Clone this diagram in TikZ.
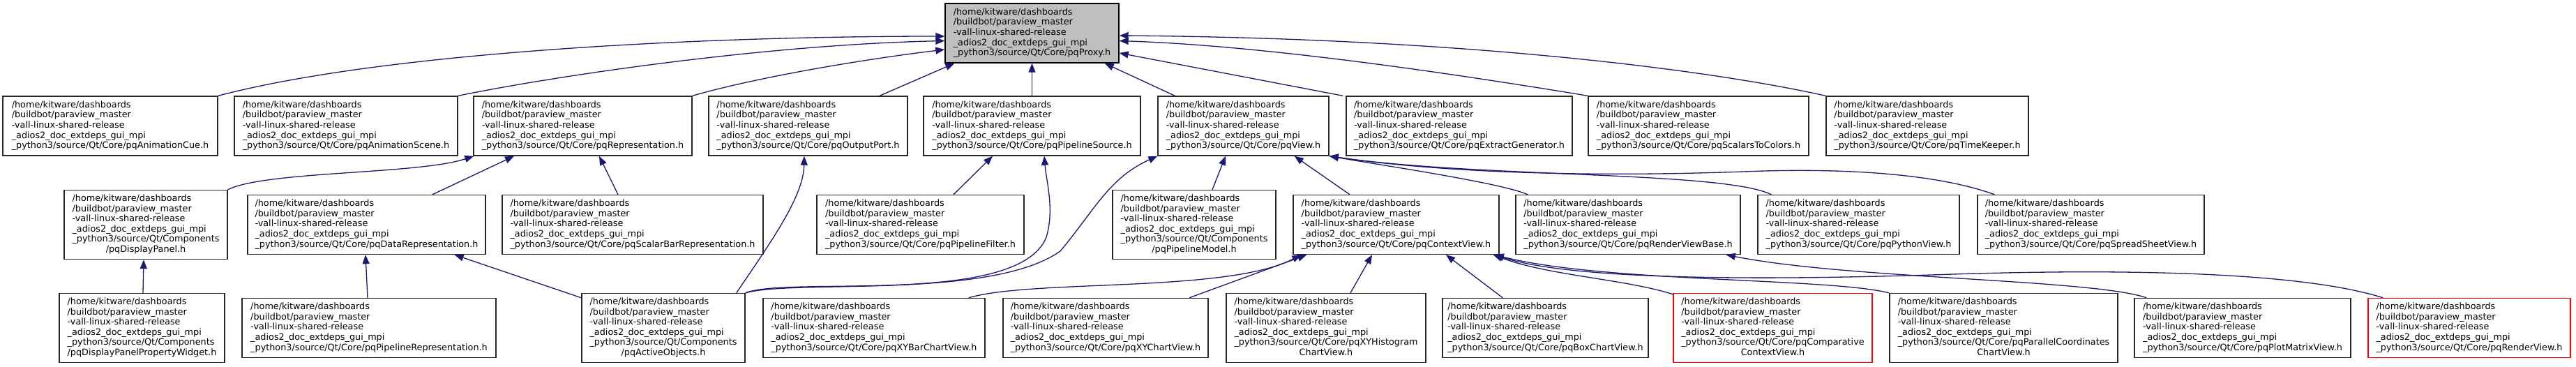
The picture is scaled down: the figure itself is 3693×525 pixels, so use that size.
\documentclass[tikz,border=0pt]{standalone}
\usepackage{fontspec}
\setmainfont{DejaVu Sans}
\usetikzlibrary{arrows.meta,calc}
\definecolor{midnightblue}{HTML}{191970}
\newcommand\hd{/home/kitware/dashboards\\/buildbot/paraview\_master\\-vall-linux-shared-release\\\_adios2\_doc\_extdeps\_gui\_mpi\\}
\newcommand\fiveL[1]{\begin{tabular}{@{}l@{}}\hd\_python3/source/Qt/Core/#1\end{tabular}}
\newcommand\sixL[2]{\begin{tabular}{@{}l@{}}\hd #1\\\multicolumn{1}{@{}c@{}}{#2}\end{tabular}}
\tikzset{
  box/.style={draw=black!85, fill=white, line width=1.4pt, inner sep=0pt,
    minimum height=85pt, font=\fontsize{12.8}{14.6}\selectfont},
  boxsix/.style={box, minimum height=99pt},
  rootbox/.style={box, fill=black!25, draw=black},
  trunc/.style={draw=red},
  edge/.style={draw=midnightblue, line width=1.3pt, -{Triangle[length=13pt,width=10pt]}}
}
\begin{document}
\begin{tikzpicture}[x=1pt,y=-1pt]
\useasboundingbox (0,0) rectangle (3693,525);
% root
\node[rootbox, minimum width=249pt] (root) at (1479.5,47.5) {\fiveL{pqProxy.h}};
% row 1
\node[box, minimum width=308pt] (cue) at (158,180.5) {\fiveL{pqAnimationCue.h}};
\node[box, minimum width=320pt] (scene) at (496,180.5) {\fiveL{pqAnimationScene.h}};
\node[box, minimum width=313pt] (repr) at (835.5,180.5) {\fiveL{pqRepresentation.h}};
\node[box, minimum width=285pt] (oport) at (1158.5,180.5) {\fiveL{pqOutputPort.h}};
\node[box, minimum width=311pt] (psrc) at (1479.5,180.5) {\fiveL{pqPipelineSource.h}};
\node[box, minimum width=245pt] (view) at (1782.5,180.5) {\fiveL{pqView.h}};
\node[box, minimum width=324pt] (extract) at (2092,180.5) {\fiveL{pqExtractGenerator.h}};
\node[box, minimum width=316pt] (s2c) at (2435,180.5) {\fiveL{pqScalarsToColors.h}};
\node[box, minimum width=290pt] (tk) at (2763,180.5) {\fiveL{pqTimeKeeper.h}};
% row 2
\node[boxsix, minimum width=234pt] (dpanel) at (209,322) {\sixL{\_python3/source/Qt/Components}{/pqDisplayPanel.h}};
\node[box, minimum width=341pt] (datarep) at (525.5,322) {\fiveL{pqDataRepresentation.h}};
\node[box, minimum width=374pt] (sbrep) at (907,322) {\fiveL{pqScalarBarRepresentation.h}};
\node[box, minimum width=297pt] (pfilter) at (1319.5,322) {\fiveL{pqPipelineFilter.h}};
\node[boxsix, minimum width=234pt] (pmodel) at (1712,322) {\sixL{\_python3/source/Qt/Components}{/pqPipelineModel.h}};
\node[box, minimum width=295pt] (ctxview) at (2001.5,322) {\fiveL{pqContextView.h}};
\node[box, minimum width=322pt] (rvbase) at (2334,322) {\fiveL{pqRenderViewBase.h}};
\node[box, minimum width=289pt] (pyview) at (2664.5,322) {\fiveL{pqPythonView.h}};
\node[box, minimum width=325pt] (ssview) at (2997.5,322) {\fiveL{pqSpreadSheetView.h}};
% row 3
\node[boxsix, minimum width=237pt] (dppw) at (203.5,470) {\sixL{\_python3/source/Qt/Components}{/pqDisplayPanelPropertyWidget.h}};
\node[box, minimum width=364pt] (piperep) at (529,470) {\fiveL{pqPipelineRepresentation.h}};
\node[boxsix, minimum width=234pt] (active) at (951,470) {\sixL{\_python3/source/Qt/Components}{/pqActiveObjects.h}};
\node[box, minimum width=318pt] (xybar) at (1253,470) {\fiveL{pqXYBarChartView.h}};
\node[box, minimum width=294pt] (xychart) at (1585,470) {\fiveL{pqXYChartView.h}};
\node[boxsix, minimum width=286pt] (xyhist) at (1901,470) {\sixL{\_python3/source/Qt/Core/pqXYHistogram}{ChartView.h}};
\node[box, minimum width=295pt] (boxchart) at (2215.5,470) {\fiveL{pqBoxChartView.h}};
\node[boxsix, trunc, minimum width=285pt] (compctx) at (2541.5,470) {\sixL{\_python3/source/Qt/Core/pqComparative}{ContextView.h}};
\node[boxsix, minimum width=327pt] (parcoord) at (2872.5,470) {\sixL{\_python3/source/Qt/Core/pqParallelCoordinates}{ChartView.h}};
\node[box, minimum width=310pt] (plotmat) at (3215,470) {\fiveL{pqPlotMatrixView.h}};
\node[box, trunc, minimum width=290pt] (render) at (3540,470) {\fiveL{pqRenderView.h}};
% edges to root
\draw[edge] (cue.north east) .. controls (550,75) and (1000,52) .. ($(root.west)+(0,4.5)$);
\draw[edge] (scene.north east) .. controls (800,108) and (1100,64) .. ($(root.west)+(0,11)$);
\draw[edge] (repr.north east) .. controls (1080,112) and (1230,86) .. ($(root.west)+(0,23.5)$);
\draw[edge] ($(oport.north)+(102.5,0)$) -- ($(root.south west)+(14,0)$);
\draw[edge] (psrc.north) -- (root.south);
\draw[edge] ($(view.north west)+(25,0)$) -- ($(root.south east)+(-21,0)$);
\draw[edge] ($(extract.north west)+(-4,0)$) -- ($(root.east)+(0,28.5)$);
\draw[edge] (s2c.north west) .. controls (2050,100) and (1800,65) .. ($(root.east)+(0,11)$);
\draw[edge] (tk.north west) .. controls (2450,100) and (2100,55) .. ($(root.east)+(0,3.5)$);
% edges to representation
\draw[edge] (dpanel.north east) .. controls (380,245) and (600,250) .. ($(repr.south west)+(1,0)$);
\draw[edge] ($(datarep.north)+(94.5,0)$) -- ($(repr.south)+(-98.5,0)$);
\draw[edge] ($(sbrep.north)+(-21,0)$) -- ($(repr.south)+(23.5,0)$);
% edges to output port / pipeline source
\draw[edge] ($(active.north east)+(-13,0)$) .. controls (1110,340) and (1152,280) .. ($(oport.south)+(-5.5,0)$);
\draw[edge] ($(pfilter.north)+(47.5,0)$) -- ($(psrc.south)+(-56.5,0)$);
\draw[edge] (active.north east) .. controls (1130,395) and (1460,440) .. (1500,340) .. controls (1512,300) and (1500,260) .. ($(psrc.south)+(17.5,0)$);
% edges to view
\draw[edge] (active.north east) .. controls (1140,400) and (1420,430) .. (1520,360) .. controls (1570,300) and (1590,255) .. (view.south west);
\draw[edge] ($(pmodel.north)+(26,0)$) -- ($(view.south)+(-25.5,0)$);
\draw[edge] ($(ctxview.north)+(-66.5,0)$) -- ($(view.south east)+(-50,0)$);
\draw[edge] ($(rvbase.north west)+(18,0)$) .. controls (2150,262) and (2000,240) .. (view.south east);
\draw[edge] ($(pyview.north west)+(20,0)$) .. controls (2470,245) and (2120,255) .. (view.south east);
\draw[edge] ($(ssview.north west)+(25,0)$) .. controls (2780,250) and (2650,240) .. (2500,246) .. controls (2250,255) and (2050,245) .. (view.south east);
% edges to data representation / display panel
\draw[edge] ($(piperep.north)+(-2,0)$) -- ($(datarep.south)+(-1.5,0)$);
\draw[edge] ($(active.north west)+(0,7)$) -- ($(datarep.south east)+(-45,0)$);
\draw[edge] ($(dppw.north)+(1.5,0)$) -- ($(dpanel.south)+(-3,0)$);
% edges to context view
\draw[edge] ($(xybar.north east)+(-24,0)$) .. controls (1480,400) and (1760,420) .. ($(ctxview.south west)+(12,0)$);
\draw[edge] ($(xychart.north)+(120,0)$) -- ($(ctxview.south west)+(20,0)$);
\draw[edge] ($(xyhist.north)+(35,0)$) -- ($(ctxview.south)+(-34.5,0)$);
\draw[edge] ($(boxchart.north west)+(87,0)$) -- ($(ctxview.south)+(71.5,0)$);
\draw[edge] ($(compctx.north west)+(0,2)$) .. controls (2330,400) and (2220,395) .. ($(ctxview.south east)+(-9,0)$);
\draw[edge] (parcoord.north west) .. controls (2620,398) and (2300,405) .. ($(ctxview.south east)+(-7,0)$);
\draw[edge] ($(render.north west)+(22,0)$) .. controls (3300,390) and (3050,385) .. (2800,393) .. controls (2500,403) and (2250,400) .. ($(ctxview.south east)+(-7,0)$);
% edge to render view base
\draw[edge] ($(plotmat.north west)+(18,0)$) .. controls (3000,400) and (2650,400) .. ($(rvbase.south east)+(-21,0)$);
\end{tikzpicture}
\end{document}
